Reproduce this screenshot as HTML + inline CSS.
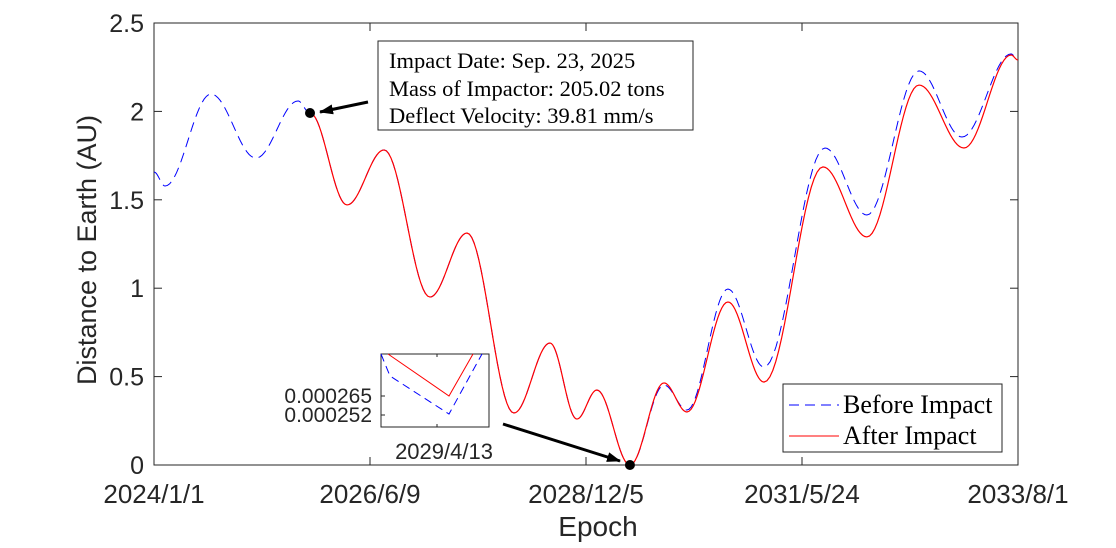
<!DOCTYPE html>
<html><head><meta charset="utf-8"><style>
html,body{margin:0;padding:0;background:#fff}
svg text{font-family:"Liberation Sans",sans-serif;fill:#262626}
.serif{font-family:"Liberation Serif",serif;fill:#000}
</style></head><body>
<svg id="chart" width="1116" height="543" xmlns="http://www.w3.org/2000/svg">
<g id="g"></g>
</svg>
<script>
// days since 2024/1/1 and distance (AU)
const beforeDays = [0,45,231,413,583,632,782,932,1118,1268,1458,1604,1713,1794,1928,2066,2159,2325,2471,2718,2888,3099,3273,3472,3500];
const beforeVals = [1.657,1.578,2.098,1.736,2.059,1.991,1.471,1.782,0.950,1.312,0.294,0.690,0.260,0.424,0.0,0.452,0.311,0.995,0.554,1.793,1.414,2.229,1.855,2.325,2.291];
const afterDays = [632,782,932,1118,1268,1458,1604,1713,1794,1928,2066,2159,2325,2471,2710,2888,3099,3281,3472,3500];
const afterVals = [1.991,1.471,1.782,0.950,1.312,0.294,0.690,0.260,0.424,0.0,0.464,0.300,0.922,0.469,1.686,1.290,2.149,1.793,2.319,2.291];
const yTicks = [0,0.5,1,1.5,2,2.5];
const yTickLabels = ["0","0.5","1","1.5","2","2.5"];
const xTicks = [0,875,1750,2625,3500];
const xTickLabels = ["2024/1/1","2026/6/9","2028/12/5","2031/5/24","2033/8/1"];

const L=154,R=1018,T=23,B=465;
const X=d=>L+(d/3500)*(R-L);
const Y=v=>B-(v/2.5)*(B-T);
const NS="http://www.w3.org/2000/svg";
const g=document.getElementById('g');
function mk(t,a,p){const e=document.createElementNS(NS,t);for(const k in a)e.setAttribute(k,a[k]);(p||g).appendChild(e);return e;}
function pathFrom(ds,vs){
  let d=`M${X(ds[0]).toFixed(2)},${Y(vs[0]).toFixed(2)}`;
  for(let i=0;i<ds.length-1;i++){
    for(let s=1;s<=20;s++){const t=s/20,w=(1-Math.cos(Math.PI*t))/2;
      d+=`L${X(ds[i]+(ds[i+1]-ds[i])*t).toFixed(2)},${Y(vs[i]+(vs[i+1]-vs[i])*w).toFixed(2)}`;}
  }
  return d;
}
let e;
e=mk('rect',{x:L,y:T,width:R-L,height:B-T,fill:'#fff',stroke:'#262626','stroke-width':1});


yTicks.forEach((v,i)=>{
  e=mk('line',{x1:L,x2:L+8,y1:Y(v),y2:Y(v),stroke:'#262626'});
  
  
  mk('line',{x1:R,x2:R-8,y1:Y(v),y2:Y(v),stroke:'#262626'});
  e=mk('text',{x:L-10,y:Y(v)+9,'text-anchor':'end','font-size':25});e.textContent=yTickLabels[i];
  
  
});
xTicks.forEach((d,i)=>{
  e=mk('line',{x1:X(d),x2:X(d),y1:B,y2:B-8,stroke:'#262626'});
  
  
  mk('line',{x1:X(d),x2:X(d),y1:T,y2:T+8,stroke:'#262626'});
  e=mk('text',{x:X(d),y:503,'text-anchor':'middle','font-size':26});e.textContent=xTickLabels[i];
  
  
});
e=mk('text',{x:598,y:536,'text-anchor':'middle','font-size':28});e.textContent='Epoch';


e=mk('text',{x:0,y:0,'text-anchor':'middle','font-size':27,transform:'translate(96,250) rotate(-90)'});e.textContent='Distance to Earth (AU)';


e=mk('path',{d:pathFrom(beforeDays,beforeVals),fill:'none',stroke:'#0000ff','stroke-width':1,'stroke-dasharray':'10,6'});


e=mk('path',{d:pathFrom(afterDays,afterVals),fill:'none',stroke:'#ff0000','stroke-width':1.2});


e=mk('circle',{cx:X(afterDays[0]),cy:Y(afterVals[0]),r:5,fill:'#000'});


e=mk('circle',{cx:X(afterDays[9]),cy:Y(afterVals[9]),r:5,fill:'#000'});


</script>
<svg style="position:absolute;left:0;top:0" width="1116" height="543" xmlns="http://www.w3.org/2000/svg">
<defs><marker id="ah" markerWidth="14" markerHeight="10" refX="13" refY="5" orient="auto" markerUnits="userSpaceOnUse"><path d="M0,0L14,5L0,10z" fill="#000"/></marker></defs>
<g>
<rect x="378" y="41" width="315" height="89" fill="#fff" stroke="#262626"/>
<text class="serif" x="389" y="68" font-size="22.5">Impact Date: Sep. 23, 2025</text>
<text class="serif" x="389" y="96" font-size="22.5">Mass of Impactor: 205.02 tons</text>
<text class="serif" x="389" y="123" font-size="22.5">Deflect Velocity: 39.81 mm/s</text>
</g>
<line x1="368" y1="102" x2="320" y2="112" stroke="#000" stroke-width="3" marker-end="url(#ah)"/>
<line x1="503" y1="424" x2="620" y2="461" stroke="#000" stroke-width="3" marker-end="url(#ah)"/>
<g>
<rect x="381" y="354" width="108" height="73" fill="#fff" stroke="#262626"/>
<path d="M388,354L449,396L473,354" fill="none" stroke="#f00"/>
<path d="M381,354L390,376L449,414L482,354" fill="none" stroke="#00f" stroke-dasharray="8,5"/>
<line x1="381" x2="385" y1="396" y2="396" stroke="#262626"/>
<line x1="381" x2="385" y1="415" y2="415" stroke="#262626"/>
<line x1="437" x2="437" y1="354" y2="357" stroke="#262626"/>
<line x1="437" x2="437" y1="427" y2="424" stroke="#262626"/>
<text x="372" y="403" font-size="21" text-anchor="end">0.000265</text>
<text x="372" y="422" font-size="21" text-anchor="end">0.000252</text>
<text x="444" y="459" font-size="22" text-anchor="middle">2029/4/13</text>
</g>
<g>
<rect x="783" y="384" width="219" height="68" fill="#fff" stroke="#262626"/>
<line x1="789" x2="839" y1="405" y2="405" stroke="#00f" stroke-dasharray="10,6"/>
<line x1="789" x2="839" y1="436" y2="436" stroke="#f00"/>
<text class="serif" x="843" y="413" font-size="26">Before Impact</text>
<text class="serif" x="843" y="444" font-size="26">After Impact</text>
</g>
</svg>
</body></html>
